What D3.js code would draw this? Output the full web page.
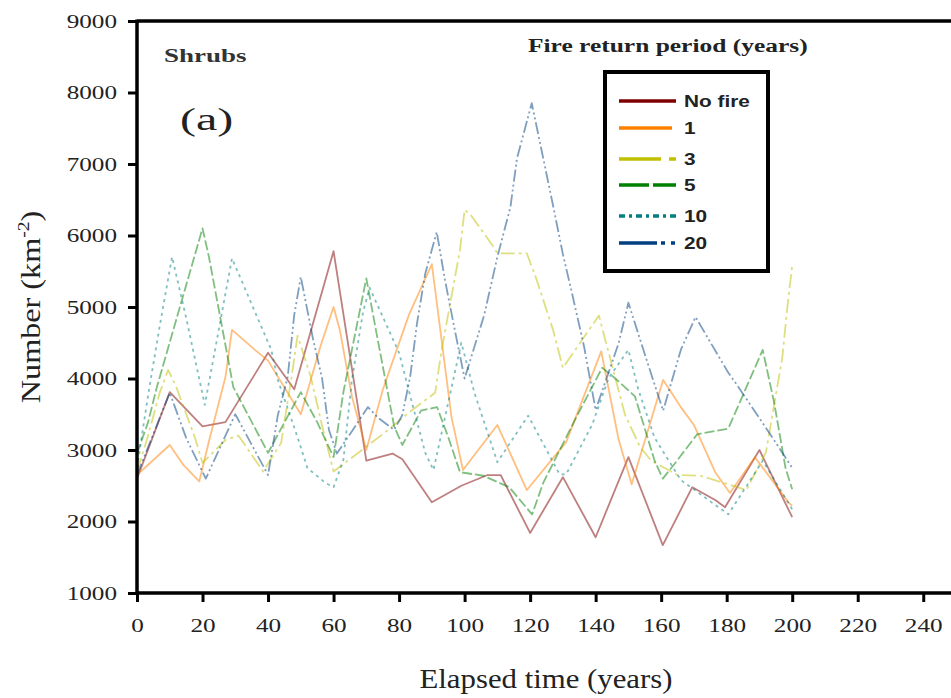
<!DOCTYPE html>
<html><head><meta charset="utf-8">
<script src="https://cdn.jsdelivr.net/npm/d3@7"></script>
<style>body{margin:0;background:#fff}</style>
</head><body>
<svg id="c" width="951" height="698"></svg>
<script>
// ---- data ----
const xTicks = [0,20,40,60,80,100,120,140,160,180,200,220,240];
const yTicks = [1000,2000,3000,4000,5000,6000,7000,8000,9000];
const seriesNames = ["No fire","1","3","5","10","20"];
const seriesColors = ["#800000","#FF8000","#C0C000","#008000","#008080","#003F80"];

const noFire = [[0,2600],[10,3810],[20,3330],[27,3390],[40,4360],[48,3850],[60,5780],[70,2850],[78,2950],[81,2870],[90,2270],[99,2500],[107,2650],[111,2650],[120,1840],[130,2620],[140,1780],[150,2900],[160.5,1670],[169.5,2480],[176.5,2300],[179.5,2200],[190,3000],[200,2060]];
const fire1 = [[0,2650],[10,3070],[14,2800],[19,2560],[22,3130],[27,4020],[29,4680],[36,4400],[40,4250],[50,3500],[56,4450],[60,5000],[62,4660],[65.6,3750],[70,3000],[75,3840],[83,4890],[90,5600],[96,3460],[99.5,2720],[110,3350],[119,2440],[131,3110],[141.7,4380],[147,3150],[151,2520],[160.6,3980],[166,3600],[170,3350],[176.5,2690],[181,2400],[188.6,2900],[199,2260],[200,2220]];
const fire3 = [[0,2700],[3,3140],[7,3810],[9.5,4120],[12,3880],[17.7,3170],[20,2820],[27,3140],[31,3200],[38.5,2700],[44,3100],[47.4,4090],[49,4600],[53,4030],[56.5,3340],[60,2700],[75,3220],[84,3560],[91,3800],[93,4400],[98.6,5800],[100,6360],[102,6280],[109,5830],[110,5750],[119,5750],[122,5380],[127,4680],[130,4150],[141,4880],[148,3660],[149,3490],[153.6,3040],[157,2850],[165,2650],[172,2640],[182.6,2490],[186,2440],[192,2970],[197,4300],[198.5,4990],[200,5580]];
const fire5 = [[0,2950],[3.4,3390],[6,3870],[20,6100],[22,5690],[29.4,3880],[40,2960],[50,3810],[55,3390],[60,2900],[63,3810],[70,5400],[73,4660],[78.5,3330],[81,3070],[86.7,3550],[91.6,3600],[95,3180],[98.6,2690],[105.7,2640],[113.6,2480],[120.6,2100],[124,2540],[134,3450],[142,4150],[146,4000],[152,3750],[158,2850],[160.5,2600],[164,2800],[171,3220],[180.5,3300],[191,4400],[194.5,3660],[198,2740],[200,2450]];
const fire10 = [[0,2750],[3.4,3770],[7,4750],[10.7,5700],[15,4850],[20.7,3630],[29,5680],[41,4400],[43,3980],[49,3180],[52,2750],[57.5,2540],[60,2480],[63,2860],[65.6,3980],[69,4930],[71,5270],[80,4360],[84,3650],[88,2960],[90.5,2720],[99,4500],[103,3800],[110,2830],[119.4,3480],[129,2660],[131,2660],[139,3360],[144,4010],[150,4400],[153,3850],[158,3170],[166,2580],[180.5,2100],[191,2850],[200,2170]];
const fire20 = [[0,2650],[10,3800],[15,3170],[21,2600],[30,3500],[40,2650],[43,3490],[46,4020],[48,4890],[50,5420],[53.7,4560],[56.5,4000],[58.6,3280],[61,2950],[64.4,3180],[70.5,3600],[73.6,3450],[78.5,3280],[81,3490],[83.4,4030],[85.5,4780],[88,5470],[91.5,6050],[94,5380],[97,4680],[100,4000],[106,4890],[110,5700],[114,6400],[116,7080],[120.5,7850],[127,6420],[130,5740],[133,5150],[136.5,4440],[140,3560],[147,4490],[150,5060],[155.7,4240],[160.6,3550],[166,4400],[170.5,4860],[180.5,4080],[183,3920],[193.3,3220],[200,2750]];
const seriesData = [noFire, fire1, fire3, fire5, fire10, fire20];
const seriesDash = [null, null, "42,8,7,8", "30,4", "6,4,3,4", "38,4,4,6,4,6"];
const plotDash   = [null, null, "14,4,3,4", "10,3", "3,4", "12,3,2,3,2,3"];

// ---- drawing ----
const svg = d3.select("#c");
const x = d3.scaleLinear().domain([0,250]).range([137,956]);
const y = d3.scaleLinear().domain([1000,9000]).range([593,21]);

const serif = "'Liberation Serif','Times New Roman',serif";

// data lines
const line = d3.line().x(d=>x(d[0])).y(d=>y(d[1]));
seriesData.forEach((s,i)=>{
  svg.append("path").datum(s).attr("d",line)
    .attr("fill","none").attr("stroke",seriesColors[i])
    .attr("stroke-width",1.8).attr("stroke-opacity",0.5)
    .attr("stroke-linejoin","round")
    .attr("stroke-dasharray",plotDash[i]);
});

// axes
const gx = svg.append("g").attr("transform","translate(0,593)")
  .call(d3.axisBottom(x).tickValues(xTicks).tickSize(9).tickSizeOuter(0).tickFormat(d3.format("d")));
gx.select(".domain").remove();
gx.selectAll(".tick line").attr("stroke","#000").attr("stroke-width",3);
gx.selectAll(".tick text").attr("y",null).attr("dy",null)
  .attr("transform","translate(0,39) scale(1.4,1)")
  .attr("font-family",serif).attr("font-size",18).attr("fill","#222");

const gy = svg.append("g").attr("transform","translate(137,0)")
  .call(d3.axisLeft(y).tickValues(yTicks).tickSize(9).tickSizeOuter(0).tickFormat(d3.format("d")));
gy.select(".domain").remove();
gy.selectAll(".tick line").attr("stroke","#000").attr("stroke-width",3);
gy.selectAll(".tick text").attr("x",null).attr("dy",null)
  .attr("transform","translate(-20,6) scale(1.4,1)").attr("text-anchor","end")
  .attr("font-family",serif).attr("font-size",18).attr("fill","#222");

// frame
svg.append("path").attr("d","M137,21H960M137,593H960M137,19.5V594.5")
  .attr("stroke","#000").attr("stroke-width",3.5).attr("fill","none");

// texts
function stext(t, px, py, size, sx, opts={}) {
  const el = svg.append("text")
    .attr("transform",`translate(${px},${py}) scale(${sx},1)`)
    .attr("font-family",opts.family||serif).attr("font-size",size)
    .attr("font-weight",opts.weight||"normal")
    .attr("text-anchor",opts.anchor||"start").attr("fill",opts.fill||"#222");
  el.text(t);
  return el;
}
stext("Elapsed time (years)", 546, 688, 28, 1.1, {anchor:"middle"});
// y title
const yt = svg.append("text")
  .attr("transform","translate(40,307) rotate(-90) scale(1.15,1)")
  .attr("font-family",serif).attr("font-size",28).attr("text-anchor","middle").attr("fill","#222");
yt.append("tspan").text("Number (km");
yt.append("tspan").attr("font-size",17).attr("dy",-11).text("-2");
yt.append("tspan").attr("dy",11).text(")");

stext("Shrubs", 164, 62, 19, 1.42, {weight:"bold", fill:"#333"});
stext("(a)", 180, 130, 32, 1.5, {});
stext("Fire return period (years)", 528, 52, 19, 1.34, {weight:"bold"});

// legend
svg.append("rect").attr("x",605).attr("y",72).attr("width",163).attr("height",199)
  .attr("fill","#fff").attr("stroke","#000").attr("stroke-width",4);
const legY = [101,128,159,185,216,243];
seriesNames.forEach((n,i)=>{
  svg.append("line").attr("x1",619).attr("x2",i===1?672:676).attr("y1",legY[i]).attr("y2",legY[i])
    .attr("stroke",seriesColors[i]).attr("stroke-width",3.5).attr("stroke-dasharray",seriesDash[i]);
  stext(n, 684, legY[i]+6, 16, 1.3, {family:"'Liberation Sans',Arial,sans-serif", weight:"bold"});
});
</script>
</body></html>
